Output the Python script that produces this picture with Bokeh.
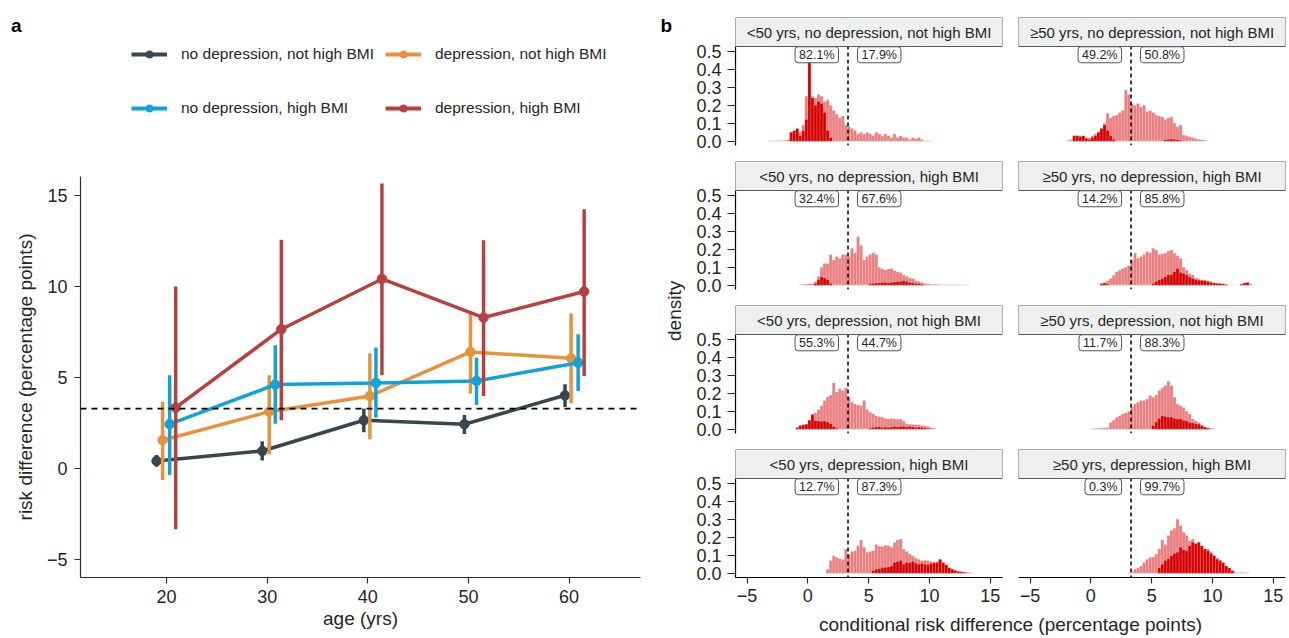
from math import pi
from bokeh.plotting import figure
from bokeh.layouts import row, column
from bokeh.models import (Range1d, Span, Label, Legend, LegendItem, FixedTicker,
                          PrintfTickFormatter, BoxAnnotation)
from bokeh.embed import file_html
from bokeh.resources import INLINE

FONT = "Liberation Sans"
TXT = "#262626"
AXIS = "#2e2e2e"

# ------------------------------------------------------------------ panel a data
series_labels = ["no depression, not high BMI", "depression, not high BMI",
                 "no depression, high BMI", "depression, high BMI"]
series_colors = ["#37474f", "#e8923b", "#0ea4d9", "#b84140"]

age_nodep_nothigh = [19.0, 29.5, 39.6, 49.6, 59.6]
rd_nodep_nothigh = [0.42, 0.97, 2.66, 2.44, 4.03]
lo_nodep_nothigh = [0.10, 0.45, 2.00, 1.90, 3.39]
hi_nodep_nothigh = [0.75, 1.50, 3.30, 2.95, 4.63]

age_dep_nothigh = [19.6, 30.2, 40.2, 50.2, 60.2]
rd_dep_nothigh = [1.56, 3.13, 3.99, 6.41, 6.06]
lo_dep_nothigh = [-0.62, 0.79, 1.61, 4.12, 3.59]
hi_dep_nothigh = [3.68, 5.13, 6.34, 8.66, 8.52]

age_nodep_high = [20.3, 30.8, 40.8, 50.8, 60.9]
rd_nodep_high = [2.44, 4.62, 4.71, 4.82, 5.82]
lo_nodep_high = [-0.35, 2.47, 2.80, 3.50, 4.27]
hi_nodep_high = [5.13, 6.78, 6.65, 6.10, 7.38]

age_dep_high = [20.9, 31.4, 41.4, 51.5, 61.5]
rd_dep_high = [3.35, 7.66, 10.42, 8.30, 9.73]
lo_dep_high = [-3.33, 2.66, 5.13, 3.99, 5.09]
hi_dep_high = [10.00, 12.58, 15.66, 12.55, 14.25]

age_ticks = [20, 30, 40, 50, 60]
rd_ticks = [-5, 0, 5, 10, 15]
overall_rd = 3.3

# ------------------------------------------------------------------ panel b data
BIN = 0.25
strip_titles = [
    "<50 yrs, no depression, not high BMI", "\u226550 yrs, no depression, not high BMI",
    "<50 yrs, no depression, high BMI", "\u226550 yrs, no depression, high BMI",
    "<50 yrs, depression, not high BMI", "\u226550 yrs, depression, not high BMI",
    "<50 yrs, depression, high BMI", "\u226550 yrs, depression, high BMI",
]
pct_below = ["82.1%", "49.2%", "32.4%", "14.2%", "55.3%", "11.7%", "12.7%", "0.3%"]
pct_above = ["17.9%", "50.8%", "67.6%", "85.8%", "44.7%", "88.3%", "87.3%", "99.7%"]

p1_light_start = -3.25
p1_light = [0.003, 0.003, 0.003, 0.004, 0.004, 0.005, 0.01, 0.04, 0.05, 0.06,
            0.05, 0.09, 0.25, 0.26, 0.25, 0.24, 0.26, 0.25, 0.22, 0.23,
            0.20, 0.17, 0.15, 0.13, 0.14, 0.09, 0.08, 0.07, 0.06, 0.04,
            0.05, 0.04, 0.05, 0.04, 0.03, 0.05, 0.04, 0.03, 0.04, 0.03,
            0.02, 0.04, 0.02, 0.03, 0.02, 0.02, 0.01, 0.02, 0.015, 0.02,
            0.01, 0.003, 0.003, 0.003]
p1_dark_start = -1.5
p1_dark = [0.05, 0.06, 0.07, 0.03, 0.06, 0.12, 0.44, 0.24, 0.20, 0.22, 0.21, 0.16, 0.06, 0.02]

p2_light_start = -2.0
p2_light = [0.005, 0.01, 0.02, 0.03, 0.03, 0.02, 0.02, 0.02, 0.03, 0.04,
            0.05, 0.07, 0.10, 0.155, 0.13, 0.14, 0.145, 0.16, 0.17, 0.285,
            0.26, 0.21, 0.20, 0.21, 0.19, 0.20, 0.165, 0.17, 0.16, 0.145,
            0.14, 0.135, 0.12, 0.13, 0.135, 0.10, 0.08, 0.09, 0.035, 0.03,
            0.025, 0.02, 0.015, 0.01, 0.008, 0.005]
p2_dark_start = -1.5
p2_dark = [0.03, 0.03, 0.025, 0.03, 0.015, 0.01, 0.02, 0.03, 0.05, 0.07, 0.09, 0.06, 0.03, 0.01,
           0, 0, 0, 0, 0, 0, 0, 0, 0, 0, 0, 0, 0, 0, 0, 0,
           0.008, 0.01, 0.012, 0.01, 0.008, 0.005]

p3_light_start = -0.75
p3_light = [0.003, 0.005, 0.005, 0.008, 0.01, 0.02, 0.05, 0.10, 0.12, 0.12,
            0.17, 0.14, 0.16, 0.15, 0.17, 0.17, 0.16, 0.205, 0.18, 0.27,
            0.22, 0.14, 0.16, 0.17, 0.18, 0.17, 0.10, 0.09, 0.085, 0.09,
            0.093, 0.08, 0.075, 0.07, 0.056, 0.05, 0.04, 0.037, 0.025, 0.02,
            0.015, 0.01, 0.008, 0.005, 0.005, 0.004, 0.004, 0.003, 0.003, 0.003,
            0.002, 0.002, 0.002, 0.002, 0.002, 0.002]
p3_dark_start = 0.5
p3_dark = [0.01, 0.03, 0.045, 0.04, 0.03, 0.01,
           0, 0, 0, 0, 0, 0, 0, 0, 0, 0, 0, 0,
           0.008, 0.01, 0.012, 0.012, 0.015, 0.015, 0.012, 0.015, 0.018, 0.02,
           0.02, 0.025, 0.02, 0.015, 0.012, 0.01, 0.008, 0.005]

p4_light_start = 0.75
p4_light = [0.01, 0.015, 0.025, 0.037, 0.055, 0.075, 0.085, 0.093, 0.10, 0.11,
            0.14, 0.177, 0.15, 0.16, 0.17, 0.187, 0.18, 0.205, 0.196, 0.17,
            0.175, 0.177, 0.19, 0.196, 0.177, 0.165, 0.15, 0.10, 0.084, 0.065,
            0.056, 0.04, 0.037, 0.03, 0.028, 0.025, 0.02, 0.013, 0.012, 0.008,
            0.006, 0.004, 0.0, 0.002, 0.0, 0.0, 0.005, 0.012, 0.015, 0.008]
p4_dark_start = 0.75
p4_dark = [0.008, 0.012, 0.005,
           0, 0, 0, 0, 0, 0, 0, 0, 0, 0, 0, 0, 0, 0,
           0.01, 0.02, 0.03, 0.037, 0.045, 0.056, 0.06, 0.075, 0.093, 0.07,
           0.065, 0.056, 0.045, 0.037, 0.03, 0.028, 0.026, 0.024, 0.02, 0.015,
           0.012, 0.01, 0.01, 0.008, 0.004,
           0, 0, 0, 0, 0.005, 0.012, 0.015]

p5_light_start = -1.0
p5_light = [0.005, 0.01, 0.02, 0.028, 0.05, 0.084, 0.09, 0.11, 0.13, 0.16,
            0.18, 0.19, 0.257, 0.206, 0.225, 0.215, 0.23, 0.18, 0.15, 0.14,
            0.135, 0.13, 0.16, 0.11, 0.094, 0.085, 0.075, 0.07, 0.066, 0.06,
            0.056, 0.06, 0.056, 0.055, 0.056, 0.045, 0.03, 0.028, 0.026, 0.025,
            0.024, 0.02, 0.019, 0.015, 0.01, 0.006]
p5_dark_start = -1.0
p5_dark = [0.01, 0.02, 0.025, 0.028, 0.05, 0.08, 0.047, 0.045, 0.043, 0.045, 0.04, 0.03, 0.015, 0.005,
           0, 0, 0, 0, 0, 0, 0, 0, 0, 0,
           0.005, 0.01, 0.012, 0.012, 0.01, 0.012, 0.01, 0.012, 0.015, 0.012,
           0.015, 0.015, 0.012, 0.015, 0.012, 0.01, 0.012, 0.01, 0.008, 0.004]

p6_light_start = 0.0
p6_light = [0.003, 0.004, 0.005, 0.006, 0.008, 0.01, 0.037, 0.05, 0.066, 0.075,
            0.084, 0.09, 0.10, 0.125, 0.14, 0.15, 0.16, 0.16, 0.168, 0.187,
            0.178, 0.19, 0.215, 0.23, 0.243, 0.266, 0.243, 0.178, 0.14, 0.13,
            0.12, 0.10, 0.084, 0.056, 0.045, 0.037, 0.019, 0.012, 0.008, 0.006, 0.003]
p6_dark_start = 5.0
p6_dark = [0.02, 0.04, 0.06, 0.075, 0.07, 0.066, 0.068, 0.06, 0.056, 0.058,
           0.05, 0.045, 0.037, 0.035, 0.03, 0.028, 0.02, 0.012, 0.006]

p7_light_start = 1.5
p7_light = [0.022, 0.07, 0.097, 0.088, 0.08, 0.078, 0.134, 0.106, 0.12, 0.125,
            0.153, 0.185, 0.144, 0.116, 0.12, 0.125, 0.159, 0.15, 0.148, 0.155,
            0.153, 0.144, 0.17, 0.185, 0.19, 0.134, 0.12, 0.106, 0.097, 0.085,
            0.078, 0.07, 0.072, 0.07, 0.065, 0.06, 0.065, 0.07, 0.055, 0.04,
            0.03, 0.022, 0.015, 0.01, 0.008, 0.006, 0.005, 0.004]
p7_dark_start = 5.25
p7_dark = [0.015, 0.022, 0.025, 0.03, 0.032, 0.035, 0.04, 0.06, 0.065, 0.07,
           0.05, 0.06, 0.058, 0.065, 0.055, 0.05, 0.054, 0.05, 0.047, 0.054,
           0.058, 0.06, 0.078, 0.06, 0.047, 0.03, 0.022, 0.015, 0.01, 0.008, 0.005]

p8_light_start = 3.0
p8_light = [0.003, 0.005, 0.022, 0.03, 0.04, 0.06, 0.078, 0.088, 0.09, 0.106,
            0.134, 0.185, 0.16, 0.21, 0.237, 0.25, 0.30, 0.265, 0.228, 0.21,
            0.18, 0.19, 0.163, 0.144, 0.14, 0.134, 0.134, 0.12, 0.10, 0.085,
            0.07, 0.05, 0.035, 0.022, 0.01, 0.005, 0.004, 0.004, 0.004, 0.003]
p8_dark_start = 5.5
p8_dark = [0.03, 0.05, 0.07, 0.08, 0.097, 0.11, 0.116, 0.144, 0.13, 0.125,
           0.153, 0.172, 0.165, 0.172, 0.153, 0.134, 0.125, 0.11, 0.097, 0.078,
           0.07, 0.06, 0.04, 0.03, 0.015]

density_ticks = [0.0, 0.1, 0.2, 0.3, 0.4, 0.5]
crd_ticks = [-5, 0, 5, 10, 15]

# ------------------------------------------------------------------ helpers
def base_fig(**kw):
    p = figure(output_backend="svg", toolbar_location=None, **kw)
    p.frame_align = False
    p.grid.visible = False
    return p


def style_axis(ax, tick_size="18px"):
    ax.axis_line_color = AXIS
    ax.axis_line_width = 1.2
    ax.major_tick_line_color = AXIS
    ax.major_tick_line_width = 1.2
    ax.major_tick_in = 0
    ax.major_tick_out = 6
    ax.minor_tick_line_color = None
    ax.major_label_text_font = FONT
    ax.major_label_text_font_size = tick_size
    ax.major_label_text_color = TXT
    ax.axis_label_text_font = FONT
    ax.axis_label_text_font_size = "19px"
    ax.axis_label_text_font_style = "normal"
    ax.axis_label_text_color = TXT


# ------------------------------------------------------------------ panel a (legend strip)
pa_top = base_fig(width=655, height=150, x_range=Range1d(0, 1), y_range=Range1d(0, 1),
                  x_axis_location=None, y_axis_location=None, min_border=0)
pa_top.outline_line_color = None
pa_top.add_layout(Label(x=10.5, y=125, x_units="screen", y_units="screen", text="a",
                        text_font=FONT, text_font_size="19px", text_font_style="bold",
                        text_color="black", text_baseline="alphabetic"))
legend_pos = [(131, 87), (385, 87), (131, 33), (385, 33)]
nan = float("nan")
for col, lab, loc in zip(series_colors, series_labels, legend_pos):
    # legend keys only: NaN points, never drawn in the frame
    kl = pa_top.line(x=[nan, nan], y=[nan, nan], line_color=col, line_width=4)
    ks = pa_top.scatter(x=[nan], y=[nan], size=9, fill_color=col, line_color=col)
    lg = Legend(items=[LegendItem(label=lab, renderers=[kl, ks])], location=loc,
                padding=0, margin=0, spacing=0, border_line_color=None,
                background_fill_alpha=0, glyph_width=36, glyph_height=18, label_height=18,
                label_standoff=14, label_text_font=FONT, label_text_font_size="15.5px",
                label_text_color=TXT)
    pa_top.add_layout(lg)

# ------------------------------------------------------------------ panel a (plot)
pa = base_fig(width=655, height=488, x_range=Range1d(11.44, 67.1), y_range=Range1d(-5.98, 16.05),
              min_border_left=80, min_border_right=15, min_border_top=26, min_border_bottom=61)
pa.outline_line_color = None
pa.xaxis.ticker = FixedTicker(ticks=age_ticks)
pa.yaxis.ticker = FixedTicker(ticks=rd_ticks)
pa.xaxis.axis_label = "age (yrs)"
pa.yaxis.axis_label = "risk difference (percentage points)"
style_axis(pa.xaxis[0])
style_axis(pa.yaxis[0])
pa.xaxis.major_label_standoff = 6
pa.xaxis.axis_label_standoff = 2
pa.yaxis.major_label_standoff = 7
pa.yaxis.axis_label_standoff = 8

pa.add_layout(Span(location=overall_rd, dimension="width", line_color="black",
                   line_dash="6 5", line_width=1.6))

series = [
    (age_nodep_nothigh, rd_nodep_nothigh, lo_nodep_nothigh, hi_nodep_nothigh),
    (age_dep_nothigh, rd_dep_nothigh, lo_dep_nothigh, hi_dep_nothigh),
    (age_nodep_high, rd_nodep_high, lo_nodep_high, hi_nodep_high),
    (age_dep_high, rd_dep_high, lo_dep_high, hi_dep_high),
]
for (ax_, ay_, lo_, hi_), col in zip(series, series_colors):
    pa.line(ax_, ay_, line_color=col, line_width=3.5)
    pa.segment(x0=ax_, y0=lo_, x1=ax_, y1=hi_, line_color=col, line_width=3.5)
    pa.scatter(ax_, ay_, size=9.5, fill_color=col, line_color=col)

# ------------------------------------------------------------------ panel b
XR = (-5.95, 16.0)
YR = (-0.024, 0.526)
PLOT_H = 99          # histogram area height (px)
STRIP_H = 29         # facet strip height (px)
FRAME_W = 267
Y_TOP = YR[1] + STRIP_H * (YR[1] - YR[0]) / PLOT_H
panels = [
    (p1_light_start, p1_light, p1_dark_start, p1_dark),
    (p2_light_start, p2_light, p2_dark_start, p2_dark),
    (p3_light_start, p3_light, p3_dark_start, p3_dark),
    (p4_light_start, p4_light, p4_dark_start, p4_dark),
    (p5_light_start, p5_light, p5_dark_start, p5_dark),
    (p6_light_start, p6_light, p6_dark_start, p6_dark),
    (p7_light_start, p7_light, p7_dark_start, p7_dark),
    (p8_light_start, p8_light, p8_dark_start, p8_dark),
]
RED = "#d40000"


def bars(p, start, vals, alpha):
    xs = [start + BIN * (i + 0.5) for i in range(len(vals))]
    p.vbar(x=xs, width=BIN, top=vals, bottom=0, fill_color=RED, fill_alpha=alpha,
           line_color="white", line_alpha=0.35, line_width=0.5)


def make_panel(idx, is_left, is_top, is_bottom):
    bl, br, w = (50, 8, 325) if is_left else (8, 4, 279)
    top = 17 if is_top else 0
    bottom = 34 if is_bottom else 16
    p = base_fig(width=w, height=top + STRIP_H + PLOT_H + bottom,
                 x_range=Range1d(*XR), y_range=Range1d(YR[0], Y_TOP),
                 x_axis_location="below" if is_bottom else None,
                 y_axis_location="left" if is_left else None,
                 min_border_left=bl, min_border_right=br, min_border_top=top,
                 min_border_bottom=bottom)
    p.outline_line_color = None
    if is_left:
        p.yaxis.ticker = FixedTicker(ticks=density_ticks)
        p.yaxis.formatter = PrintfTickFormatter(format="%.1f")
        p.yaxis.bounds = YR
        style_axis(p.yaxis[0])
        p.yaxis.major_tick_out = 8
        p.yaxis.major_label_standoff = 6
        p.yaxis.axis_line_color = "black"
    if is_bottom:
        p.xaxis.ticker = FixedTicker(ticks=crd_ticks)
        style_axis(p.xaxis[0])
        p.xaxis.major_label_standoff = 5
        p.xaxis.axis_line_color = "black"
    ls, lv, ds, dv = panels[idx]
    bars(p, ls, lv, 0.5)
    bars(p, ds, dv, 1.0)
    p.add_layout(Span(location=overall_rd, dimension="height", line_color="black",
                      line_dash="4 3", line_width=1.5))
    # facet strip
    p.add_layout(BoxAnnotation(bottom=YR[1], fill_color="#edf0ee", fill_alpha=1.0,
                               line_color="#5a5a5a", line_width=1, line_alpha=1.0))
    p.add_layout(Label(x=FRAME_W / 2, y=PLOT_H + STRIP_H / 2, x_units="screen", y_units="screen",
                       text=strip_titles[idx], text_align="center", text_baseline="middle",
                       text_font=FONT, text_font_size="15px", text_color=TXT))
    common = dict(y=0.48, text_baseline="middle", text_font=FONT, text_font_size="12.5px",
                  text_color=TXT, background_fill_color="white", border_line_color="#555555",
                  border_line_width=1, border_radius=3, padding=(4, 1))
    p.add_layout(Label(x=overall_rd, x_offset=-9.5, text=pct_below[idx], text_align="right", **common))
    p.add_layout(Label(x=overall_rd, x_offset=9.5, text=pct_above[idx], text_align="left", **common))
    return p


cols = []
for c in range(2):
    cols.append(column(*[make_panel(2 * r + c, c == 0, r == 0, r == 3) for r in range(4)]))

pyl = base_fig(width=30, height=638, x_range=Range1d(0, 1), y_range=Range1d(0, 1),
               x_axis_location=None, y_axis_location=None, min_border=0)
pyl.outline_line_color = None
pyl.add_layout(Label(x=5, y=613, x_units="screen", y_units="screen", text="b",
                     text_font=FONT, text_font_size="19px", text_font_style="bold",
                     text_color="black", text_baseline="alphabetic"))
pyl.add_layout(Label(x=19, y=327.6, x_units="screen", y_units="screen", text="density",
                     angle=pi / 2, text_align="center", text_baseline="middle",
                     text_font=FONT, text_font_size="19px", text_color=TXT))

pxl = base_fig(width=604, height=27, x_range=Range1d(0, 1), y_range=Range1d(0, 1),
               x_axis_location=None, y_axis_location=None, min_border=0)
pxl.outline_line_color = None
pxl.add_layout(Label(x=325, y=14, x_units="screen", y_units="screen",
                     text="conditional risk difference (percentage points)",
                     text_align="center", text_baseline="middle",
                     text_font=FONT, text_font_size="19px", text_color=TXT))

layout = row(column(pa_top, pa), pyl, column(row(cols[0], cols[1]), pxl))

open("out.html", "w").write(file_html(layout, INLINE))
